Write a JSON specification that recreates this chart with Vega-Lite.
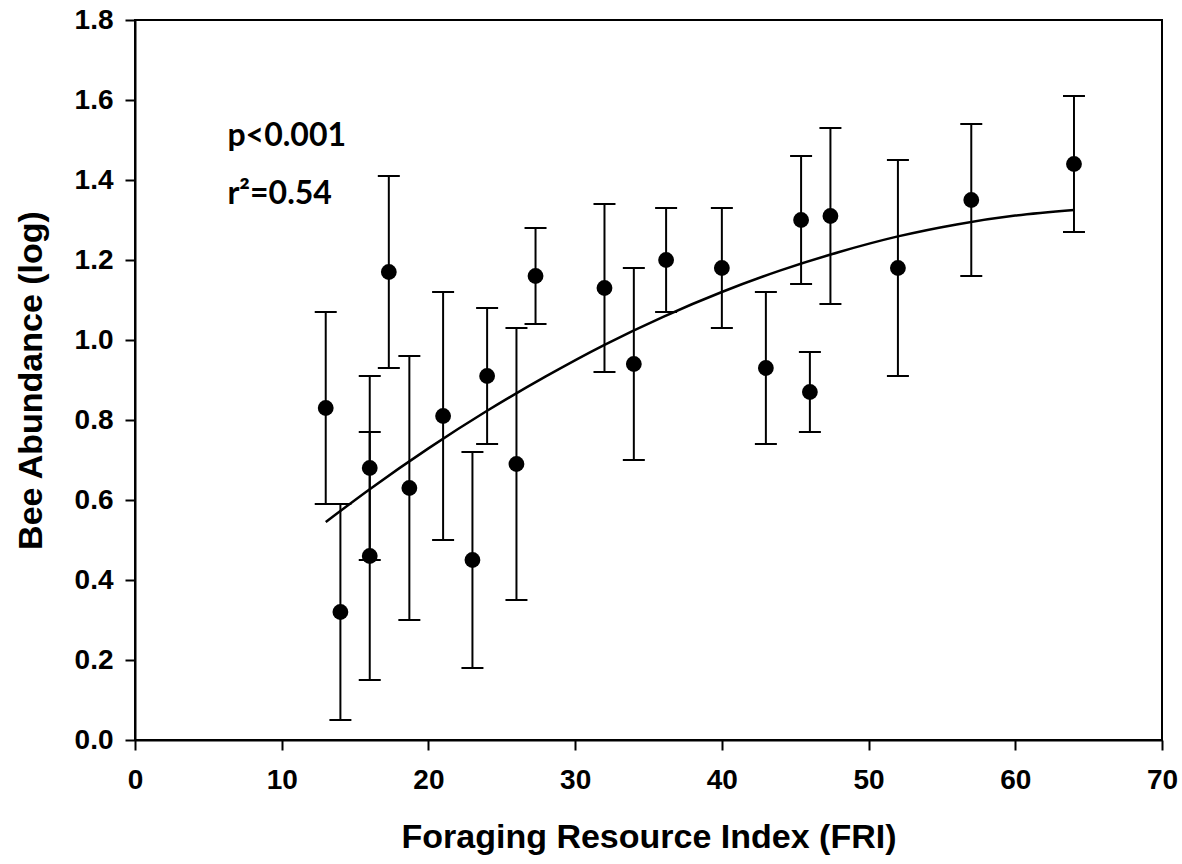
{
  "$schema": "https://vega.github.io/schema/vega-lite/v6.json",
  "width": 1027,
  "height": 720,
  "autosize": {"type": "none"},
  "padding": {"left": 135, "top": 20, "right": 20, "bottom": 124},
  "background": "white",
  "config": {
    "font": "Liberation Sans",
    "view": {"stroke": "black", "strokeWidth": 2},
    "axis": {
      "domainColor": "black", "domainWidth": 2, "tickColor": "black", "tickWidth": 2, "tickSize": 10,
      "grid": false, "labelFont": "Liberation Sans", "labelFontWeight": "bold", "labelFontSize": 28, "labelColor": "black",
      "labelFlush": false, "labelOverlap": false,
      "titleFont": "Liberation Sans", "titleFontWeight": "bold", "titleColor": "black"
    }
  },
  "datasets": {
    "pts": [
      {"fri": 13, "bee": 0.83, "lo": 0.59, "hi": 1.07},
      {"fri": 14, "bee": 0.32, "lo": 0.05, "hi": 0.59},
      {"fri": 16, "bee": 0.68, "lo": 0.45, "hi": 0.91},
      {"fri": 16, "bee": 0.46, "lo": 0.15, "hi": 0.77},
      {"fri": 17.3, "bee": 1.17, "lo": 0.93, "hi": 1.41},
      {"fri": 18.7, "bee": 0.63, "lo": 0.30, "hi": 0.96},
      {"fri": 21, "bee": 0.81, "lo": 0.50, "hi": 1.12},
      {"fri": 23, "bee": 0.45, "lo": 0.18, "hi": 0.72},
      {"fri": 24, "bee": 0.91, "lo": 0.74, "hi": 1.08},
      {"fri": 26, "bee": 0.69, "lo": 0.35, "hi": 1.03},
      {"fri": 27.3, "bee": 1.16, "lo": 1.04, "hi": 1.28},
      {"fri": 32, "bee": 1.13, "lo": 0.92, "hi": 1.34},
      {"fri": 34, "bee": 0.94, "lo": 0.70, "hi": 1.18},
      {"fri": 36.2, "bee": 1.20, "lo": 1.07, "hi": 1.33},
      {"fri": 40, "bee": 1.18, "lo": 1.03, "hi": 1.33},
      {"fri": 43, "bee": 0.93, "lo": 0.74, "hi": 1.12},
      {"fri": 45.4, "bee": 1.30, "lo": 1.14, "hi": 1.46},
      {"fri": 46, "bee": 0.87, "lo": 0.77, "hi": 0.97},
      {"fri": 47.4, "bee": 1.31, "lo": 1.09, "hi": 1.53},
      {"fri": 52, "bee": 1.18, "lo": 0.91, "hi": 1.45},
      {"fri": 57, "bee": 1.35, "lo": 1.16, "hi": 1.54},
      {"fri": 64, "bee": 1.44, "lo": 1.27, "hi": 1.61}
    ],
    "fit": [
      {"fri": 13, "bee": 0.545},
      {"fri": 16, "bee": 0.627},
      {"fri": 20, "bee": 0.729},
      {"fri": 24, "bee": 0.823},
      {"fri": 28, "bee": 0.909},
      {"fri": 32, "bee": 0.988},
      {"fri": 36, "bee": 1.058},
      {"fri": 40, "bee": 1.12},
      {"fri": 44, "bee": 1.174},
      {"fri": 48, "bee": 1.22},
      {"fri": 52, "bee": 1.259},
      {"fri": 56, "bee": 1.289},
      {"fri": 60, "bee": 1.311},
      {"fri": 64, "bee": 1.325}
    ],
    "notes": [
      {"fri": 6.3, "bee": 1.51, "txt": "p<0.001"},
      {"fri": 6.3, "bee": 1.365, "txt": "r²=0.54"}
    ]
  },
  "encoding": {
    "x": {"field": "fri", "type": "quantitative", "scale": {"domain": [0, 70], "nice": false, "zero": false},
      "axis": {"values": [0, 10, 20, 30, 40, 50, 60, 70], "title": "Foraging Resource Index (FRI)", "titleFontSize": 34, "labelFontSize": 28, "labelFontWeight": "bold", "labelFlush": false, "labelPadding": 16, "titlePadding": 26}},
    "y": {"field": "bee", "type": "quantitative", "scale": {"domain": [0, 1.8], "nice": false},
      "axis": {"values": [0, 0.2, 0.4, 0.6, 0.8, 1.0, 1.2, 1.4, 1.6, 1.8], "format": ".1f", "title": "Bee Abundance (log)", "titleFontSize": 34, "labelFontSize": 28, "labelFontWeight": "bold", "labelFlush": false, "labelPadding": 12, "titlePadding": 26}}
  },
  "layer": [
    {"data": {"name": "pts"}, "mark": {"type": "rule", "color": "black", "strokeWidth": 2},
      "encoding": {"y": {"field": "lo", "type": "quantitative"}, "y2": {"field": "hi"}}},
    {"data": {"name": "pts"}, "mark": {"type": "tick", "orient": "horizontal", "color": "black", "size": 22, "thickness": 2, "opacity": 1},
      "encoding": {"y": {"field": "lo", "type": "quantitative"}}},
    {"data": {"name": "pts"}, "mark": {"type": "tick", "orient": "horizontal", "color": "black", "size": 22, "thickness": 2, "opacity": 1},
      "encoding": {"y": {"field": "hi", "type": "quantitative"}}},
    {"data": {"name": "fit"}, "mark": {"type": "line", "color": "black", "strokeWidth": 2.5, "interpolate": "monotone"}, "encoding": {}},
    {"data": {"name": "pts"}, "mark": {"type": "circle", "color": "black", "size": 250, "opacity": 1}, "encoding": {}},
    {"data": {"name": "notes"}, "mark": {"type": "text", "align": "left", "baseline": "middle", "fontSize": 32, "fontWeight": "bold", "font": "Lato", "color": "black"},
      "encoding": {"text": {"field": "txt"}}}
  ]
}
